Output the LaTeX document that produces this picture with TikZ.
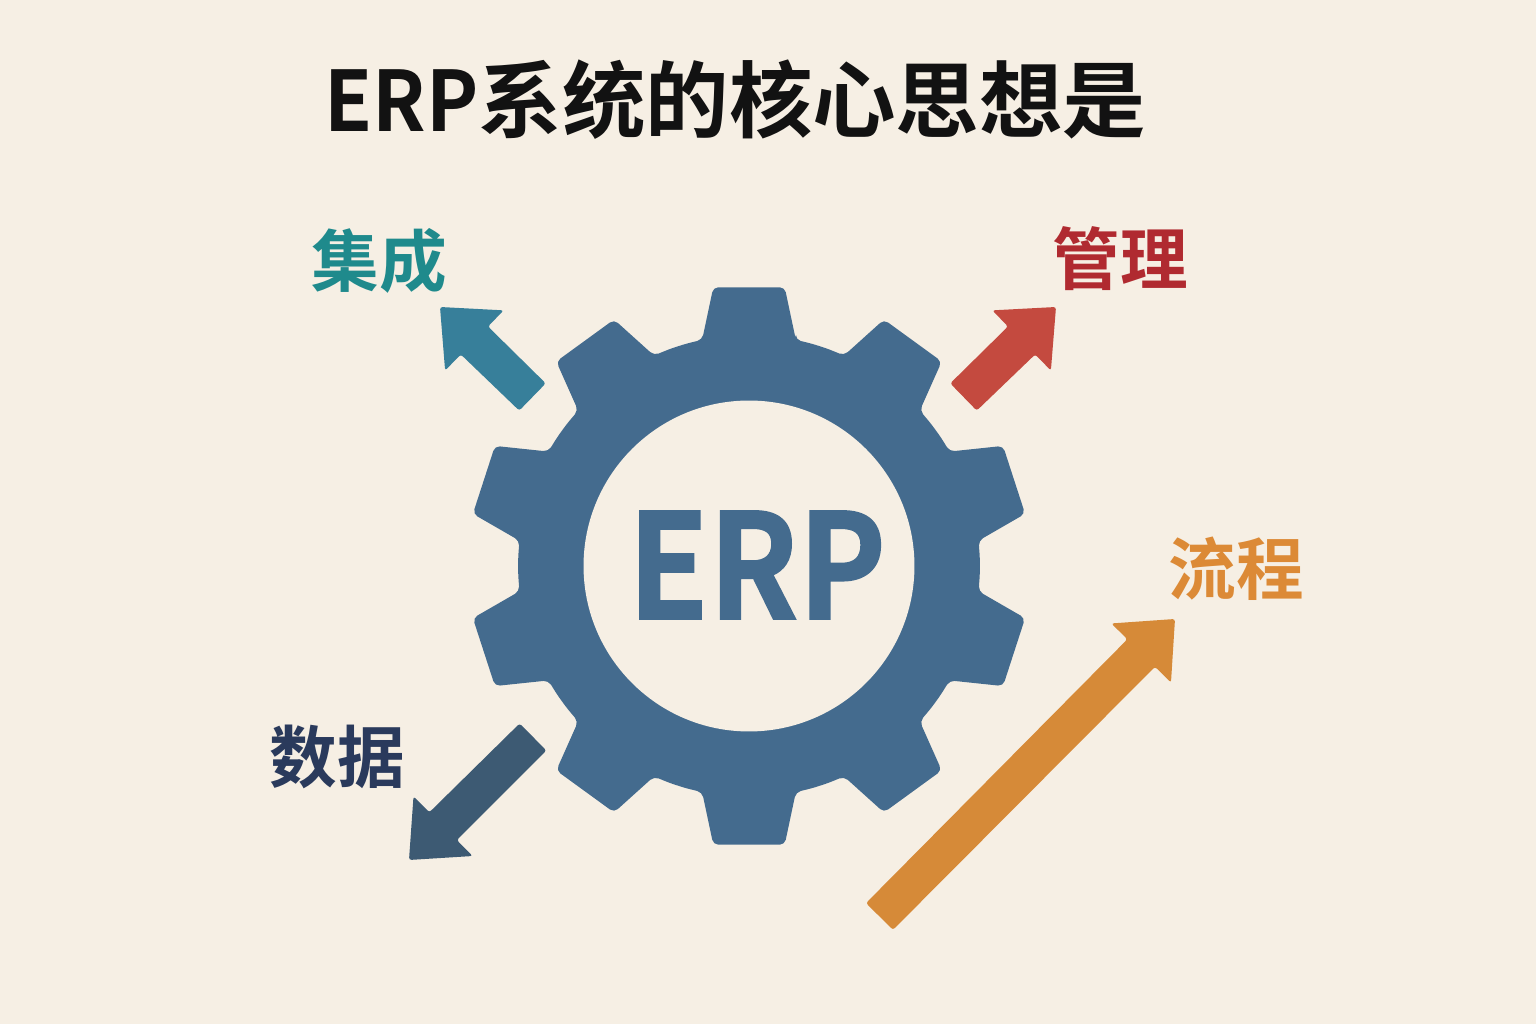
\documentclass[tikz,border=0pt]{standalone}
\usepackage{fontspec}
\usepackage{xcolor}
\usetikzlibrary {calc}
\newfontfamily\cjk{Noto Sans CJK SC Bold}
\newfontfamily\titlelatin[FakeStretch=0.94]{Noto Sans CJK SC Bold}
\newfontfamily\hublatin[FakeStretch=0.9,FakeBold=1.2]{Noto Sans CJK SC Bold}
\definecolor{bgcream}{HTML}{F6EFE4}
\definecolor{gearblue}{HTML}{446B8E}
\definecolor{jichengcol}{HTML}{1F8A8C}
\definecolor{guanlicol}{HTML}{B02A30}
\definecolor{shujucol}{HTML}{2A3A5C}
\definecolor{liuchengcol}{HTML}{DC8A36}
\definecolor{jichengarrow}{HTML}{377F9A}
\definecolor{guanliarrow}{HTML}{C44A3F}
\definecolor{shujuarrow}{HTML}{3D5A73}
\definecolor{liuchengarrow}{HTML}{D68A38}

\begin{document}
\begin{tikzpicture}
		[x=0.02cm,y=0.02cm,
		word/.style={font=\cjk\fontsize{38.5}{38.5}\selectfont,inner sep=0pt},
		fatarrow/.style={rounded corners=0.05cm,
			to path={($(\tikztostart)!0.38cm!90:(\tikztotarget)$)
				-- ($(\tikztotarget)!0.96cm!(\tikztostart)!0.39cm!-90:(\tikztostart)$)
				-- ($(\tikztotarget)!0.96cm!(\tikztostart)!0.84cm!-90:(\tikztostart)$)
				-- (\tikztotarget)
				-- ($(\tikztotarget)!0.96cm!(\tikztostart)!0.84cm!90:(\tikztostart)$)
				-- ($(\tikztotarget)!0.96cm!(\tikztostart)!0.39cm!90:(\tikztostart)$)
				-- ($(\tikztostart)!0.38cm!-90:(\tikztotarget)$) -- cycle}}]
		\fill [bgcream] (0,0) rectangle (1536,1024);

		\node [font=\cjk\fontsize{47.5}{47.5}\selectfont,inner sep=0pt,text=black!93] (title) at (735.5,924) {{\titlelatin ERP}系统的核心思想是};

		% gear with ten teeth
		\fill [gearblue,rounded corners=0.1cm,shift={(749,458)}] (78.3:231)
			\foreach \a in {90,126,...,414} {
				-- (\a-7.3:281) -- (\a+7.3:281) -- (\a+11.7:231)
				-- (\a+16:231) -- (\a+20:231) -- (\a+24.3:231)
			} -- cycle;
		\node [circle,fill=bgcream,inner sep=0pt,minimum size=6.62cm] (hub) at (749,458) {};
		\node [text=gearblue,inner sep=0pt,font=\hublatin\fontsize{83}{83}\selectfont] (erp) at (757,459) {ERP};

		\node [word,text=jichengcol] (jicheng) at (379,763) {集成};
		\node [word,text=guanlicol] (guanli) at (1120,765) {管理};
		\node [word,text=shujucol] (shuju) at (337,267) {数据};
		\node [word,text=liuchengcol] (liucheng) at (1236,455) {流程};

		\coordinate (a1) at (532.5,627);
		\coordinate (a2) at (440,717);
		\coordinate (b1) at (963.5,627);
		\coordinate (b2) at (1056,717);
		\coordinate (c1) at (533,287);
		\coordinate (c2) at (409,164);
		\coordinate (d1) at (879.5,107.5);
		\coordinate (d2) at (1175,405);

		\fill [fatarrow,jichengarrow] (a1) to (a2);
		\fill [fatarrow,guanliarrow] (b1) to (b2);
		\fill [fatarrow,shujuarrow] (c1) to (c2);
		\fill [fatarrow,liuchengarrow] (d1) to (d2);
	\end{tikzpicture}
\end{document}
